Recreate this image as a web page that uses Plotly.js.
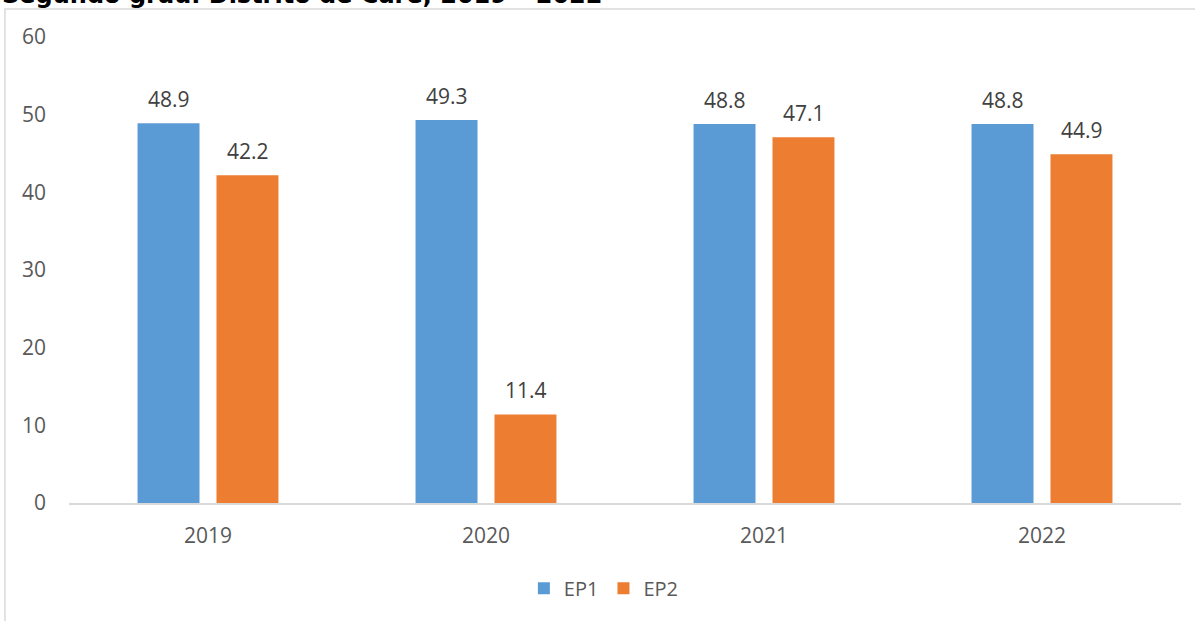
<!DOCTYPE html>
<html><head><meta charset="utf-8">
<script src="https://cdn.plot.ly/plotly-3.0.1.min.js"></script>
<style>html,body{margin:0;padding:0;background:#fff}#chart{width:1195px;height:621px}</style>
</head><body><div id="chart"></div>
<script>
const years = ["2019", "2020", "2021", "2022"];
const ep1 = [48.9, 49.3, 48.8, 48.8];
const ep2 = [42.2, 11.4, 47.1, 44.9];
const seriesNames = ["EP1", "EP2"];
const titleText = "Segundo grau. Distrito de Caré, 2019 – 2022";

const font = "'Open Sans', 'Liberation Sans', sans-serif";
const colors = ["#5B9BD5", "#ED7D31"];

const traces = [ep1, ep2].map((vals, i) => ({
  type: "bar", x: years, y: vals, name: seriesNames[i],
  marker: {color: colors[i]}, hoverinfo: "none"
}));

const annotations = [];
[ep1, ep2].forEach((vals, i) => {
  vals.forEach((v, j) => annotations.push({
    x: j, y: v, xref: "x", yref: "y", text: v.toFixed(1), showarrow: false,
    xshift: i === 0 ? -39.5 : 39.5, yanchor: "bottom", yshift: 8,
    font: {family: font, size: 21, color: "#404040"}
  }));
});
annotations.push({
  text: "<b>" + titleText + "</b>", xref: "paper", yref: "paper", x: -0.062, xanchor: "left",
  y: 1.0, yanchor: "bottom", yshift: 26, showarrow: false,
  font: {family: "'DejaVu Sans', Verdana, sans-serif", size: 24, color: "#000"}
});

const layout = {
  width: 1195, height: 621,
  margin: {l: 69, r: 14, t: 37, b: 118},
  paper_bgcolor: "#fff", plot_bgcolor: "#fff",
  barmode: "group", bargap: 0.432, bargroupgap: 0.215,
  showlegend: true,
  legend: {orientation: "h", x: 0.481, xanchor: "center", y: -0.183, yanchor: "middle",
    font: {family: font, size: 20, color: "#595959"}},
  xaxis: {type: "category", range: [-0.5, 3.5], showgrid: false, zeroline: false, showline: true, linecolor: "#d9d9d9",
    linewidth: 1.5, ticks: "", ticklabelstandoff: 13,
    tickfont: {family: font, size: 21, color: "#595959"}, fixedrange: true},
  yaxis: {range: [0, 60], dtick: 10, showgrid: false, zeroline: false, showline: false, ticks: "",
    ticklabelstandoff: 22, tickfont: {family: font, size: 21, color: "#595959"}, fixedrange: true},
  shapes: [{type: "rect", xref: "paper", yref: "paper", x0: -0.0576, x1: 1.03, y0: -0.3, y1: 1.060,
    line: {color: "#d9d9d9", width: 1.5}, fillcolor: "rgba(0,0,0,0)", layer: "below"}],
  annotations: annotations
};
Plotly.newPlot("chart", traces, layout, {displayModeBar: false, staticPlot: true});
</script></body></html>
